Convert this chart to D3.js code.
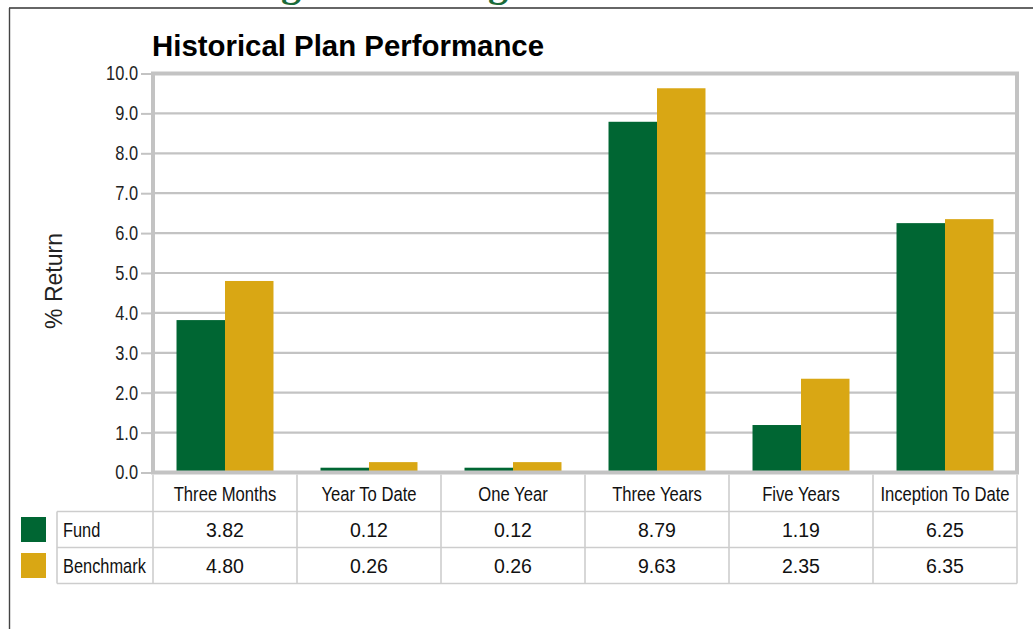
<!DOCTYPE html>
<html>
<head>
<meta charset="utf-8">
<script src="https://cdn.jsdelivr.net/npm/d3@7"></script>
<style>
  html, body { margin: 0; padding: 0; background: #fff; }
  svg { display: block; }
</style>
</head>
<body>
<svg id="chart" width="1034" height="629"></svg>
<script>
// Return periods shown along the category axis and in the table header
const categories = ["Three Months", "Year To Date", "One Year", "Three Years", "Five Years", "Inception To Date"];
// Percent returns per period
const fundValues = [3.82, 0.12, 0.12, 8.79, 1.19, 6.25];
const benchmarkValues = [4.80, 0.26, 0.26, 9.63, 2.35, 6.35];
const seriesNames = ["Fund", "Benchmark"];
const seriesColors = ["#006633", "#D9A714"];
const yTicks = [0, 1, 2, 3, 4, 5, 6, 7, 8, 9, 10];

const seriesData = [fundValues, benchmarkValues];

const svg = d3.select("#chart");
const regular = "'Liberation Sans', Arial, sans-serif";
// Condensed labels: Liberation Sans squeezed horizontally
const NARROW = 0.82;

const plot = { left: 153, right: 1017, top: 73.5, bottom: 472.5 };
const rowLines = [511.5, 547.5, 583.5];
const legendLeft = 57;
const gridColor = "#c3c3c3";
const tableColor = "#cdcdcd";

function narrowText(sel, px, py, size, anchor) {
  return sel.append("text")
    .attr("transform", `translate(${px},${py}) scale(${NARROW},1)`)
    .attr("text-anchor", anchor || "start")
    .attr("font-family", regular).attr("font-size", size).attr("fill", "#111");
}

// Page frame and the heading above the chart
svg.append("line").attr("x1", 9).attr("x2", 1033).attr("y1", 8).attr("y2", 8)
  .attr("stroke", "#333").attr("stroke-width", 1.6);
svg.append("line").attr("x1", 9.5).attr("x2", 9.5).attr("y1", 8).attr("y2", 629)
  .attr("stroke", "#444").attr("stroke-width", 1.4);
svg.selectAll("text.heading").data([281, 488]).join("text")
  .attr("class", "heading")
  .attr("x", d => d).attr("y", -4)
  .attr("font-family", "'Liberation Serif', serif").attr("font-weight", "bold")
  .attr("font-size", 40).attr("fill", "#1b6b3a").text("g");

// Scales
const x = d3.scaleBand().domain(categories).range([plot.left, plot.right]).padding(0);
const xs = d3.scaleBand().domain(seriesNames).range([0, x.bandwidth()])
  .paddingInner(0).paddingOuter(0.485);
const y = d3.scaleLinear().domain([0, 10]).range([plot.bottom, plot.top]);

// Title
svg.append("text").attr("x", 152).attr("y", 56)
  .attr("font-family", regular).attr("font-weight", "bold").attr("font-size", 29.4)
  .attr("fill", "#000").text("Historical Plan Performance");

// Horizontal gridlines
svg.append("g").selectAll("line").data(yTicks).join("line")
  .attr("x1", plot.left).attr("x2", plot.right)
  .attr("y1", d => y(d)).attr("y2", d => y(d))
  .attr("stroke", gridColor).attr("stroke-width", 2.2);

// Y axis with ticks and labels
const yAxis = svg.append("g").attr("transform", `translate(${plot.left},0)`)
  .call(d3.axisLeft(y).tickValues(yTicks).tickFormat(d3.format(".1f")).tickSize(12).tickPadding(3));
yAxis.select(".domain").remove();
yAxis.selectAll(".tick line").attr("stroke", gridColor).attr("stroke-width", 2);
yAxis.selectAll(".tick text")
  .attr("x", -15 / NARROW)
  .attr("transform", `scale(${NARROW},1)`)
  .attr("font-family", regular).attr("font-size", 20).attr("fill", "#222");

// Y axis title
svg.append("text")
  .attr("transform", `translate(62,281) rotate(-90)`)
  .attr("text-anchor", "middle")
  .attr("font-family", regular).attr("font-size", 23).attr("fill", "#222")
  .text("% Return");

// Bars
const groups = svg.append("g").selectAll("g").data(categories).join("g")
  .attr("transform", d => `translate(${x(d)},0)`);
groups.selectAll("rect")
  .data((c, i) => seriesNames.map((s, k) => ({ s, k, v: seriesData[k][i] })))
  .join("rect")
  .attr("x", d => xs(d.s))
  .attr("width", xs.bandwidth())
  .attr("y", d => y(d.v))
  .attr("height", d => y(0) - y(d.v))
  .attr("fill", d => seriesColors[d.k]);

// Plot frame (left, top, right, bottom)
svg.append("rect")
  .attr("x", plot.left).attr("y", plot.top)
  .attr("width", plot.right - plot.left).attr("height", plot.bottom - plot.top)
  .attr("fill", "none").attr("stroke", gridColor).attr("stroke-width", 4);

// Data table beneath the chart
const table = svg.append("g");
table.selectAll("line.row").data(rowLines).join("line")
  .attr("class", "row")
  .attr("x1", legendLeft).attr("x2", plot.right)
  .attr("y1", d => d).attr("y2", d => d)
  .attr("stroke", tableColor).attr("stroke-width", 1.6);
const colEdges = categories.map(c => x(c)).concat([plot.right]);
table.selectAll("line.col").data(colEdges).join("line")
  .attr("class", "col")
  .attr("x1", d => d).attr("x2", d => d)
  .attr("y1", plot.bottom + 2).attr("y2", rowLines[2])
  .attr("stroke", tableColor).attr("stroke-width", 1.6);
table.append("line")
  .attr("x1", legendLeft).attr("x2", legendLeft)
  .attr("y1", rowLines[0]).attr("y2", rowLines[2])
  .attr("stroke", tableColor).attr("stroke-width", 1.6);

// Header labels
categories.forEach(c => {
  narrowText(table, x(c) + x.bandwidth() / 2, 501, 20.3, "middle").text(c);
});

// Series rows: swatch, name and values
seriesNames.forEach((name, k) => {
  const top = rowLines[k];
  const base = top + 25;
  table.append("rect")
    .attr("x", 21).attr("y", top + 5.5).attr("width", 25).attr("height", 25)
    .attr("fill", seriesColors[k]);
  narrowText(table, 63, base, 20).text(name);
  table.selectAll(`text.v${k}`).data(seriesData[k]).join("text")
    .attr("class", `v${k}`)
    .attr("x", (d, i) => x(categories[i]) + x.bandwidth() / 2).attr("y", base)
    .attr("text-anchor", "middle")
    .attr("font-family", regular).attr("font-size", 19.5).attr("fill", "#111")
    .text(d => d3.format(".2f")(d));
});
</script>
</body>
</html>
